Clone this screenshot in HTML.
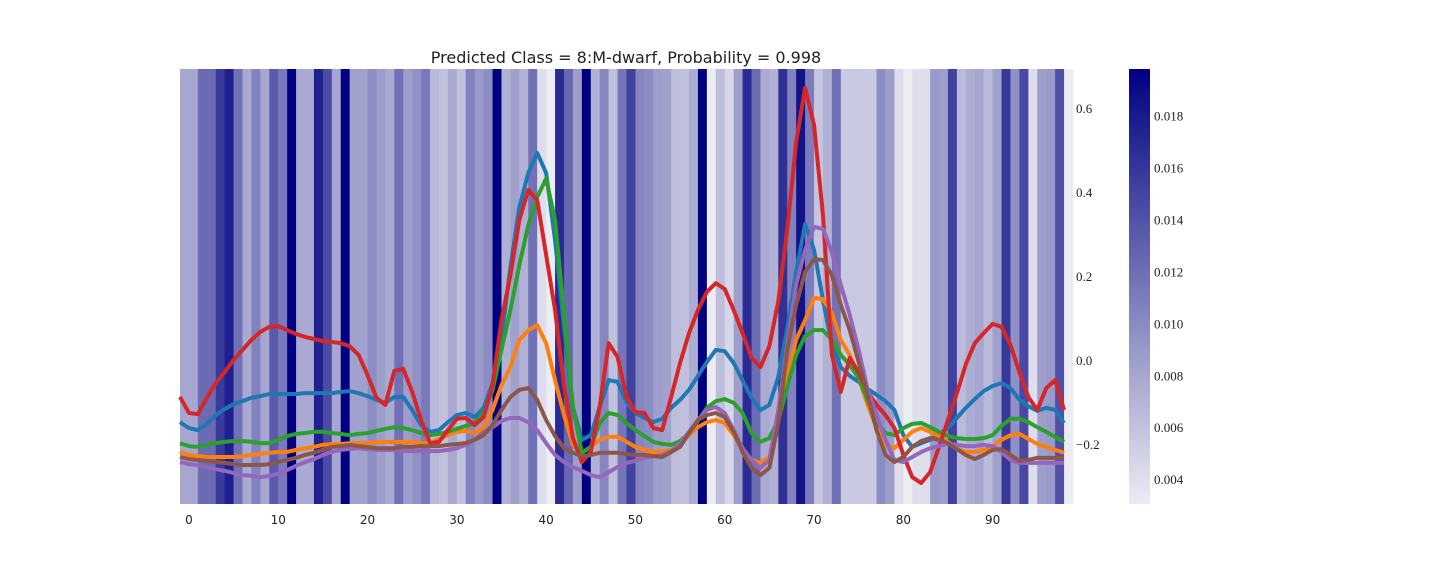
<!DOCTYPE html>
<html><head><meta charset="utf-8">
<style>
html,body{margin:0;padding:0;background:#fff;}
svg{display:block;}
.sans{font-family:"DejaVu Sans","Liberation Sans",sans-serif;}
.serif{font-family:"Liberation Serif","DejaVu Serif",serif;}
</style></head>
<body>
<svg id="chart" width="1440" height="576" viewBox="0 0 1440 576" xmlns="http://www.w3.org/2000/svg">
<text x="626" y="63" text-anchor="middle" class="sans" font-size="16" fill="#222">Predicted Class = 8:M-dwarf, Probability = 0.998</text>
<g id="heat"></g>
<g id="lines"></g>
<g id="xaxis"></g>
<g id="yaxis"></g>
<defs><linearGradient id="cbg" x1="0" y1="1" x2="0" y2="0"><stop offset="0" stop-color="rgb(236,236,243)"/><stop offset="1" stop-color="rgb(0,0,128)"/></linearGradient></defs>
<rect x="1129" y="69" width="21" height="435" fill="url(#cbg)"/>
<g id="cbaxis"></g>
</svg>
<script>
const heatValues=[0.008,0.008,0.0122,0.0122,0.0157,0.0176,0.0118,0.0078,0.0106,0.008,
0.0134,0.0112,0.0198,0.0078,0.0078,0.0175,0.0145,0.008,0.0198,0.0084,
0.0084,0.0098,0.0086,0.0078,0.0118,0.0086,0.0095,0.0112,0.0066,0.0061,
0.0078,0.0061,0.0106,0.0089,0.0098,0.0198,0.0072,0.0084,0.0072,0.0118,
0.0041,0.003,0.0168,0.0124,0.0086,0.0198,0.0072,0.0103,0.0061,0.0115,
0.0152,0.0103,0.0098,0.0086,0.0084,0.0064,0.0061,0.0075,0.0198,0.003,
0.0064,0.0046,0.0086,0.0168,0.0121,0.0078,0.0072,0.0164,0.0106,0.0185,
0.0109,0.0058,0.0072,0.0118,0.0055,0.0055,0.0055,0.0055,0.0098,0.0086,
0.0041,0.003,0.004,0.004,0.0089,0.0086,0.0152,0.0066,0.0075,0.008,
0.0066,0.0084,0.0158,0.0095,0.0146,0.0041,0.0086,0.0089,0.0141,0.003];
const blueVals=[-0.148,-0.162,-0.167,-0.152,-0.131,-0.117,-0.105,-0.098,-0.090,-0.086,
-0.081,-0.081,-0.081,-0.081,-0.079,-0.079,-0.079,-0.079,-0.076,-0.074,
-0.079,-0.086,-0.095,-0.102,-0.088,-0.088,-0.119,-0.155,-0.171,-0.167,
-0.148,-0.131,-0.126,-0.136,-0.114,-0.055,0.048,0.221,0.364,0.445,
0.493,0.445,0.286,0.079,-0.112,-0.190,-0.179,-0.112,-0.048,-0.052,
-0.100,-0.126,-0.138,-0.148,-0.140,-0.114,-0.095,-0.071,-0.038,-0.005,
0.024,0.021,-0.007,-0.048,-0.090,-0.119,-0.107,-0.040,0.076,0.210,
0.324,0.262,0.143,0.036,-0.017,-0.038,-0.052,-0.069,-0.083,-0.098,
-0.119,-0.179,-0.207,-0.198,-0.190,-0.176,-0.162,-0.138,-0.114,-0.093,
-0.074,-0.062,-0.055,-0.067,-0.095,-0.110,-0.121,-0.114,-0.119,-0.150];
const orangeVals=[-0.219,-0.226,-0.229,-0.231,-0.231,-0.231,-0.231,-0.229,-0.226,-0.224,
-0.221,-0.219,-0.219,-0.214,-0.210,-0.207,-0.202,-0.200,-0.200,-0.198,
-0.198,-0.198,-0.195,-0.195,-0.195,-0.195,-0.195,-0.198,-0.198,-0.188,
-0.179,-0.171,-0.169,-0.174,-0.160,-0.119,-0.060,-0.017,0.048,0.071,
0.083,0.040,-0.048,-0.131,-0.202,-0.221,-0.207,-0.190,-0.183,-0.183,
-0.195,-0.207,-0.214,-0.219,-0.217,-0.214,-0.200,-0.179,-0.160,-0.148,
-0.143,-0.150,-0.179,-0.214,-0.238,-0.245,-0.231,-0.143,-0.036,0.048,
0.095,0.148,0.145,0.112,0.048,0.012,-0.043,-0.107,-0.162,-0.202,
-0.210,-0.190,-0.171,-0.162,-0.171,-0.181,-0.195,-0.210,-0.219,-0.219,
-0.214,-0.207,-0.190,-0.179,-0.176,-0.188,-0.200,-0.207,-0.214,-0.221];
const greenVals=[-0.198,-0.205,-0.207,-0.202,-0.198,-0.195,-0.193,-0.193,-0.195,-0.198,
-0.198,-0.190,-0.181,-0.176,-0.174,-0.171,-0.171,-0.174,-0.176,-0.179,
-0.176,-0.174,-0.169,-0.164,-0.160,-0.162,-0.167,-0.174,-0.179,-0.176,
-0.171,-0.164,-0.157,-0.150,-0.126,-0.071,0.024,0.119,0.226,0.321,
0.388,0.432,0.333,0.112,-0.112,-0.221,-0.207,-0.150,-0.126,-0.131,
-0.150,-0.167,-0.181,-0.195,-0.200,-0.202,-0.193,-0.174,-0.145,-0.114,
-0.098,-0.093,-0.102,-0.126,-0.174,-0.195,-0.186,-0.143,-0.064,0.012,
0.057,0.071,0.071,0.048,0.012,-0.012,-0.043,-0.095,-0.148,-0.174,
-0.179,-0.162,-0.152,-0.150,-0.160,-0.171,-0.181,-0.186,-0.188,-0.188,
-0.186,-0.179,-0.157,-0.140,-0.140,-0.148,-0.160,-0.171,-0.183,-0.195];
const redVals=[-0.088,-0.126,-0.129,-0.090,-0.055,-0.029,0.000,0.024,0.048,0.067,
0.079,0.081,0.071,0.062,0.055,0.050,0.045,0.043,0.040,0.033,
0.012,-0.036,-0.090,-0.107,-0.026,-0.021,-0.076,-0.143,-0.198,-0.195,
-0.167,-0.140,-0.138,-0.155,-0.136,-0.060,0.095,0.202,0.333,0.405,
0.381,0.250,0.119,-0.060,-0.186,-0.243,-0.219,-0.112,0.040,0.007,
-0.088,-0.124,-0.126,-0.162,-0.167,-0.088,-0.007,0.064,0.119,0.162,
0.183,0.169,0.119,0.064,0.005,-0.017,0.033,0.140,0.310,0.519,
0.648,0.560,0.345,0.012,-0.076,0.005,-0.029,-0.076,-0.107,-0.131,
-0.162,-0.226,-0.279,-0.293,-0.267,-0.207,-0.143,-0.079,-0.010,0.040,
0.064,0.086,0.079,0.036,-0.029,-0.088,-0.119,-0.067,-0.048,-0.119];
const purpleVals=[-0.243,-0.248,-0.250,-0.255,-0.260,-0.264,-0.269,-0.274,-0.276,-0.279,
-0.276,-0.271,-0.262,-0.252,-0.243,-0.236,-0.226,-0.219,-0.214,-0.212,
-0.210,-0.212,-0.214,-0.214,-0.214,-0.217,-0.217,-0.217,-0.217,-0.217,
-0.214,-0.210,-0.202,-0.190,-0.171,-0.160,-0.145,-0.138,-0.138,-0.148,
-0.167,-0.198,-0.226,-0.243,-0.255,-0.264,-0.274,-0.279,-0.267,-0.255,
-0.245,-0.240,-0.233,-0.229,-0.226,-0.217,-0.198,-0.171,-0.143,-0.119,
-0.112,-0.126,-0.167,-0.210,-0.238,-0.257,-0.238,-0.119,0.036,0.179,
0.262,0.317,0.312,0.257,0.179,0.107,0.024,-0.071,-0.131,-0.190,
-0.238,-0.243,-0.231,-0.219,-0.210,-0.205,-0.200,-0.202,-0.205,-0.205,
-0.202,-0.205,-0.219,-0.238,-0.245,-0.245,-0.245,-0.245,-0.245,-0.245];
const brownVals=[-0.231,-0.236,-0.238,-0.240,-0.243,-0.245,-0.248,-0.250,-0.250,-0.250,
-0.248,-0.243,-0.238,-0.233,-0.226,-0.221,-0.214,-0.207,-0.205,-0.202,
-0.205,-0.207,-0.210,-0.210,-0.210,-0.207,-0.207,-0.205,-0.205,-0.205,
-0.202,-0.200,-0.198,-0.190,-0.179,-0.155,-0.119,-0.088,-0.071,-0.067,
-0.095,-0.143,-0.181,-0.210,-0.221,-0.229,-0.226,-0.221,-0.221,-0.221,
-0.224,-0.226,-0.226,-0.229,-0.231,-0.219,-0.207,-0.174,-0.143,-0.131,
-0.126,-0.136,-0.171,-0.219,-0.257,-0.274,-0.257,-0.150,0.024,0.131,
0.210,0.240,0.238,0.202,0.131,0.071,-0.005,-0.083,-0.167,-0.226,
-0.243,-0.231,-0.207,-0.193,-0.186,-0.190,-0.198,-0.212,-0.226,-0.236,
-0.226,-0.214,-0.212,-0.226,-0.240,-0.238,-0.233,-0.233,-0.233,-0.233];
const seriesColors=["#1f77b4","#ff7f0e","#2ca02c","#d62728","#9467bd","#8c564b"];
const seriesNames=["series-blue","series-orange","series-green","series-red","series-purple","series-brown"];
const xTicks=[0,10,20,30,40,50,60,70,80,90];
const yTicks=[-0.2,0.0,0.2,0.4,0.6];
const cbTicks=[0.004,0.006,0.008,0.010,0.012,0.014,0.016,0.018];

const NS="http://www.w3.org/2000/svg";
const X0=180,X1=1073,Y0=69,Y1=504;
const xMin=-1,xMax=99,yMin=-0.3429,yMax=0.6929;
const vMin=0.00304,vMax=0.0198;
function xScale(v){return X0+(v-xMin)/(xMax-xMin)*(X1-X0);}
function yScale(v){return Y1-(v-yMin)/(yMax-yMin)*(Y1-Y0);}
function cbScale(v){return Y1-(v-vMin)/(vMax-vMin)*(Y1-Y0);}
function cmap(v){let t=Math.max(0,Math.min(1,(v-vMin)/(vMax-vMin)));
 return "rgb("+Math.round(236*(1-t))+","+Math.round(236*(1-t))+","+Math.round(243-115*t)+")";}
function mk(tag,attrs,parent){const e=document.createElementNS(NS,tag);for(const k in attrs)e.setAttribute(k,attrs[k]);parent.appendChild(e);return e;}

const heat=document.getElementById('heat');
heatValues.forEach((v,i)=>{
 const xa=xScale(i-1),xb=xScale(i);
 const r=mk('rect',{x:xa.toFixed(2),y:Y0,width:(xb-xa+0.4).toFixed(2),height:Y1-Y0,fill:cmap(v)},heat);
 
 
});

const lines=document.getElementById('lines');
[blueVals,orangeVals,greenVals,redVals,purpleVals,brownVals].forEach((arr,s)=>{
 const d=arr.map((v,i)=>(i?'L':'M')+xScale(i-1).toFixed(2)+' '+yScale(v).toFixed(2)).join(' ');
 const p=mk('path',{d:d,fill:'none',stroke:seriesColors[s],'stroke-width':4,'stroke-linejoin':'round','stroke-linecap':'butt'},lines);
 
 
});

const xa=document.getElementById('xaxis');
xTicks.forEach(t=>{
 const x=xScale(t);
 const tx=mk('text',{x:x,y:Y1+20,'text-anchor':'middle','font-size':12,fill:'#222',class:'sans'},xa);
 tx.textContent=String(t);
 
 
});
const ya=document.getElementById('yaxis');
yTicks.forEach(t=>{
 const y=yScale(t);
 const tx=mk('text',{x:X1+3,y:y+5,'font-size':13,fill:'#222',class:'serif'},ya);
 tx.textContent=(t<0?'\u2212':'')+Math.abs(t).toFixed(1);
 
 
});
const cb=document.getElementById('cbaxis');
cbTicks.forEach(t=>{
 const y=cbScale(t);
 const tx=mk('text',{x:1154,y:y+5,'font-size':13,fill:'#222',class:'serif'},cb);
 tx.textContent=t.toFixed(3);
 
 
});
</script>
</body></html>
